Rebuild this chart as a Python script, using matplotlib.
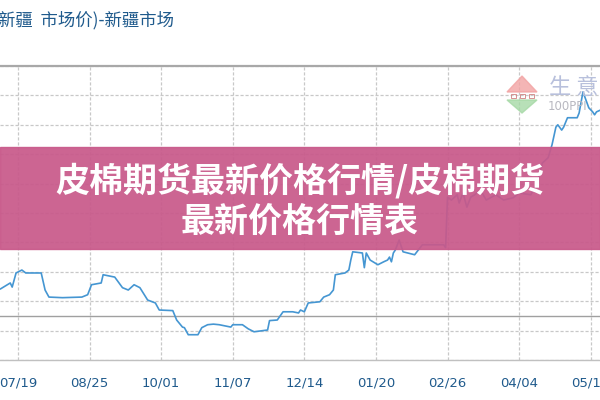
import matplotlib.pyplot as plt
from matplotlib.patches import Rectangle, Polygon

plt.rcParams['font.family'] = ['Noto Sans CJK SC', 'DejaVu Sans']

# price series (days after 07/19, price)
days = [-9, -4, -3, -1, 2, 4, 12, 14, 16, 23, 33, 36, 38, 43, 44, 50, 54, 57, 60, 63,
        67, 71, 73, 80, 82, 85, 86, 88, 93, 95, 98, 101, 104, 110, 111, 116, 119, 122, 129, 130,
        134, 137, 142, 145, 146, 148, 150, 156, 158, 161, 163, 164, 169, 171, 172, 173, 178, 179, 180, 182,
        186, 189, 191, 192, 193, 194, 195, 197, 199, 205, 209, 220, 221, 222, 224, 227, 228, 230, 232, 234,
        236, 239, 242, 247, 251, 256, 259, 265, 268, 271, 274, 276, 278, 279, 281, 282, 284, 289, 290, 292,
        293, 295, 297, 298, 299, 301]
prices = [14210, 14310, 14240, 14480, 14530, 14480, 14480, 14190, 14070, 14060, 14070, 14110, 14280, 14310, 14450, 14410, 14230, 14190, 14280, 14230,
          14020, 13970, 13850, 13840, 13680, 13560, 13550, 13430, 13430, 13550, 13600, 13610, 13600, 13560, 13600, 13600, 13530, 13480, 13510, 13670,
          13680, 13820, 13820, 13800, 13850, 13820, 13970, 13990, 14070, 14110, 14190, 14450, 14480, 14530, 14700, 14840, 14820, 14570, 14820, 14700,
          14620, 14670, 14700, 14750, 14670, 14820, 14870, 15040, 14840, 14790, 14960, 14960, 14910, 15770, 15720, 15810, 15670, 15840, 15600, 15770,
          15810, 15890, 15720, 15810, 15720, 15760, 15840, 15810, 15980, 16350, 16440, 16660, 16960, 17000, 16910, 16960, 17120, 17120, 17200, 17560,
          17470, 17290, 17220, 17170, 17220, 17250]

tick_days = [0, 37, 74, 111, 148, 185, 222, 259, 296]
tick_labels = ["07/19", "08/25", "10/01", "11/07", "12/14", "01/20", "02/26", "04/04", "05/11"]
mark_level = 13750

fig = plt.figure(figsize=(6, 4), dpi=100)
ax = fig.add_axes([0, 0.1, 1, 0.735])

ax.set_xlim(-9.3, 300.8)
ax.set_ylim(13000, 18000)
ax.set_yticks(range(13000, 18001, 500))
ax.set_xticks(tick_days)
ax.set_xticklabels(tick_labels, color='#1f5a8c', fontsize=9.5, family='DejaVu Sans')
ax.tick_params(axis='x', length=0, pad=12)
ax.tick_params(axis='y', length=0, labelleft=False)
ax.grid(True, color='#c8c8c8', linestyle=(0, (2.5, 1.5)), linewidth=0.9)
ax.axhline(mark_level, color='#a0a0a0', linewidth=1)

for s in ['left', 'right']:
    ax.spines[s].set_visible(False)
ax.spines['top'].set_color('#a8a8a8')
ax.spines['top'].set_linewidth(1.6)
ax.spines['bottom'].set_color('#c0c0c0')
ax.spines['bottom'].set_linewidth(1)

ax.plot(days, prices, color='#4596d2', linewidth=1.2, zorder=3)

# title fragment top-left
fig.text(-0.003, 0.95, "新疆  市场价)-新疆市场", color='#1f5a8c', fontsize=12.5,
         ha='left', va='center')

# watermark logo
W, H = 600, 400
def fx(px):
    return px / W
def fy(py):
    return 1 - py / H
fig.patches.append(Polygon([(fx(507), fy(92)), (fx(522), fy(76)), (fx(537), fy(92))],
                           closed=True, transform=fig.transFigure, color='#f2a3a3', alpha=0.8, zorder=1))
fig.patches.append(Polygon([(fx(507), fy(100)), (fx(522), fy(113)), (fx(537), fy(100))],
                           closed=True, transform=fig.transFigure, color='#a6d9a6', alpha=0.8, zorder=1))
for bx in [511, 520, 529]:
    fig.patches.append(Rectangle((fx(bx), fy(98)), 5 / W, 4 / H, transform=fig.transFigure,
                                 fill=False, edgecolor='#d08080', linewidth=0.6, zorder=1))
fig.text(fx(549), fy(87), "生 意", color='#b8c0dc', fontsize=16, ha='left', va='center')
fig.text(fx(548), fy(107), "100PPI", color='#b8b8c0', fontsize=8.5, ha='left', va='center',
         family='DejaVu Sans')

# banner overlay
fig.patches.append(Rectangle((0, fy(249)), 1, (249 - 147) / H, transform=fig.transFigure,
                             color='#c8598a', alpha=0.93, zorder=5))
fig.text(0.5, fy(181), "皮棉期货最新价格行情/皮棉期货", color='white', fontsize=24.5,
         fontweight='bold', ha='center', va='center', zorder=6)
fig.text(0.5, fy(221), "最新价格行情表", color='white', fontsize=24.5,
         fontweight='bold', ha='center', va='center', zorder=6)

fig.savefig('out.png', dpi=100)
